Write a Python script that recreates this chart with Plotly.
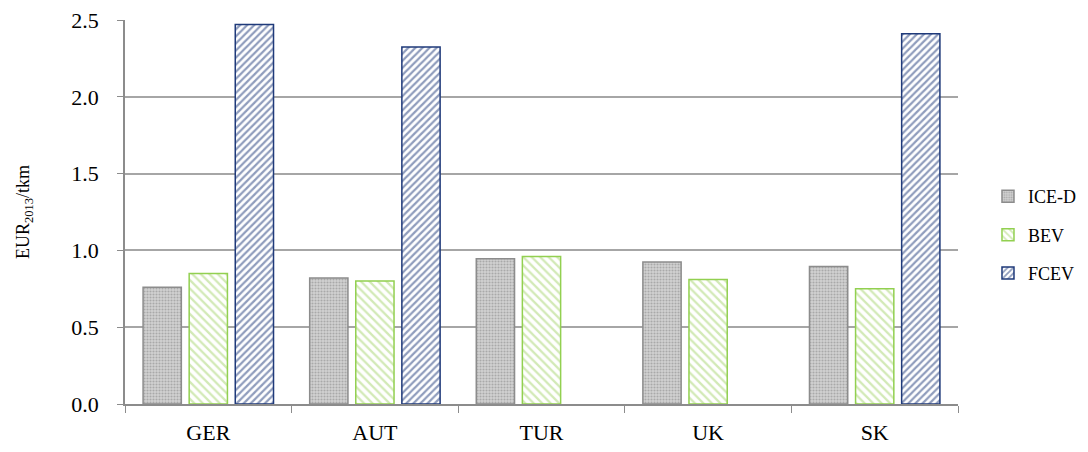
import plotly.graph_objects as go

categories = ["GER", "AUT", "TUR", "UK", "SK"]
ice_d = [0.76, 0.82, 0.945, 0.925, 0.895]
bev = [0.85, 0.80, 0.96, 0.81, 0.75]
fcev = [2.47, 2.325, None, None, 2.41]
y_ticks = [0.0, 0.5, 1.0, 1.5, 2.0, 2.5]
y_ticklabels = ["0.0", "0.5", "1.0", "1.5", "2.0", "2.5"]

font_family = "Liberation Serif, Times New Roman, serif"

fig = go.Figure()
fig.add_trace(go.Bar(
    name="ICE-D", x=categories, y=ice_d, legendgroup="a",
    marker=dict(color="#c4c4c4", line=dict(color="#8c8c8c", width=1.5),
                pattern=dict(shape=".", fgcolor="#7f7f7f", bgcolor="#d2d2d2", size=3, solidity=0.4)),
))
fig.add_trace(go.Bar(
    name="BEV", x=categories, y=bev, legendgroup="b",
    marker=dict(color="white", line=dict(color="#92d050", width=1.5),
                pattern=dict(shape="\\", fgcolor="#a6d46e", bgcolor="white", size=6, solidity=0.38)),
))
fig.add_trace(go.Bar(
    name="FCEV", x=categories, y=fcev, legendgroup="c",
    marker=dict(color="white", line=dict(color="#1f3a7a", width=1.5),
                pattern=dict(shape="/", fgcolor="#1f3a7a", bgcolor="white", size=5, solidity=0.45)),
))

fig.update_layout(
    width=1080, height=444,
    margin=dict(l=117, r=130, t=12, b=48, autoexpand=False),
    paper_bgcolor="white", plot_bgcolor="white",
    barmode="group", bargap=0.17, bargroupgap=0.17,
    font=dict(family=font_family, size=19, color="black"),
    legend=dict(x=1.036, y=0.44, xanchor="left", yanchor="middle",
                font=dict(family=font_family, size=18), tracegroupgap=12,
                itemwidth=30, bgcolor="rgba(0,0,0,0)", borderwidth=0),
    showlegend=True,
)
fig.update_xaxes(
    showline=True, linecolor="#8c8c8c", linewidth=1.5,
    ticks="outside", tickson="boundaries", ticklen=7, tickcolor="#8c8c8c",
    tickfont=dict(family=font_family, size=22), showgrid=False,
    ticklabelstandoff=8, automargin=False, ticklabeloverflow="allow",
)
fig.update_yaxes(
    range=[0, 2.5], tickvals=y_ticks, ticktext=y_ticklabels,
    showline=True, linecolor="#8c8c8c", linewidth=1.5,
    ticks="outside", ticklen=6, tickcolor="#8c8c8c",
    showgrid=True, gridcolor="#a6a6a6", gridwidth=1.5,
    tickfont=dict(family=font_family, size=22), ticklabelstandoff=14,
    ticklabeloverflow="allow",
    title=dict(text="EUR<sub>2013</sub>/tkm", font=dict(family=font_family, size=18), standoff=37),
    zeroline=False, automargin=False,
)

fig.write_html("out.html")
